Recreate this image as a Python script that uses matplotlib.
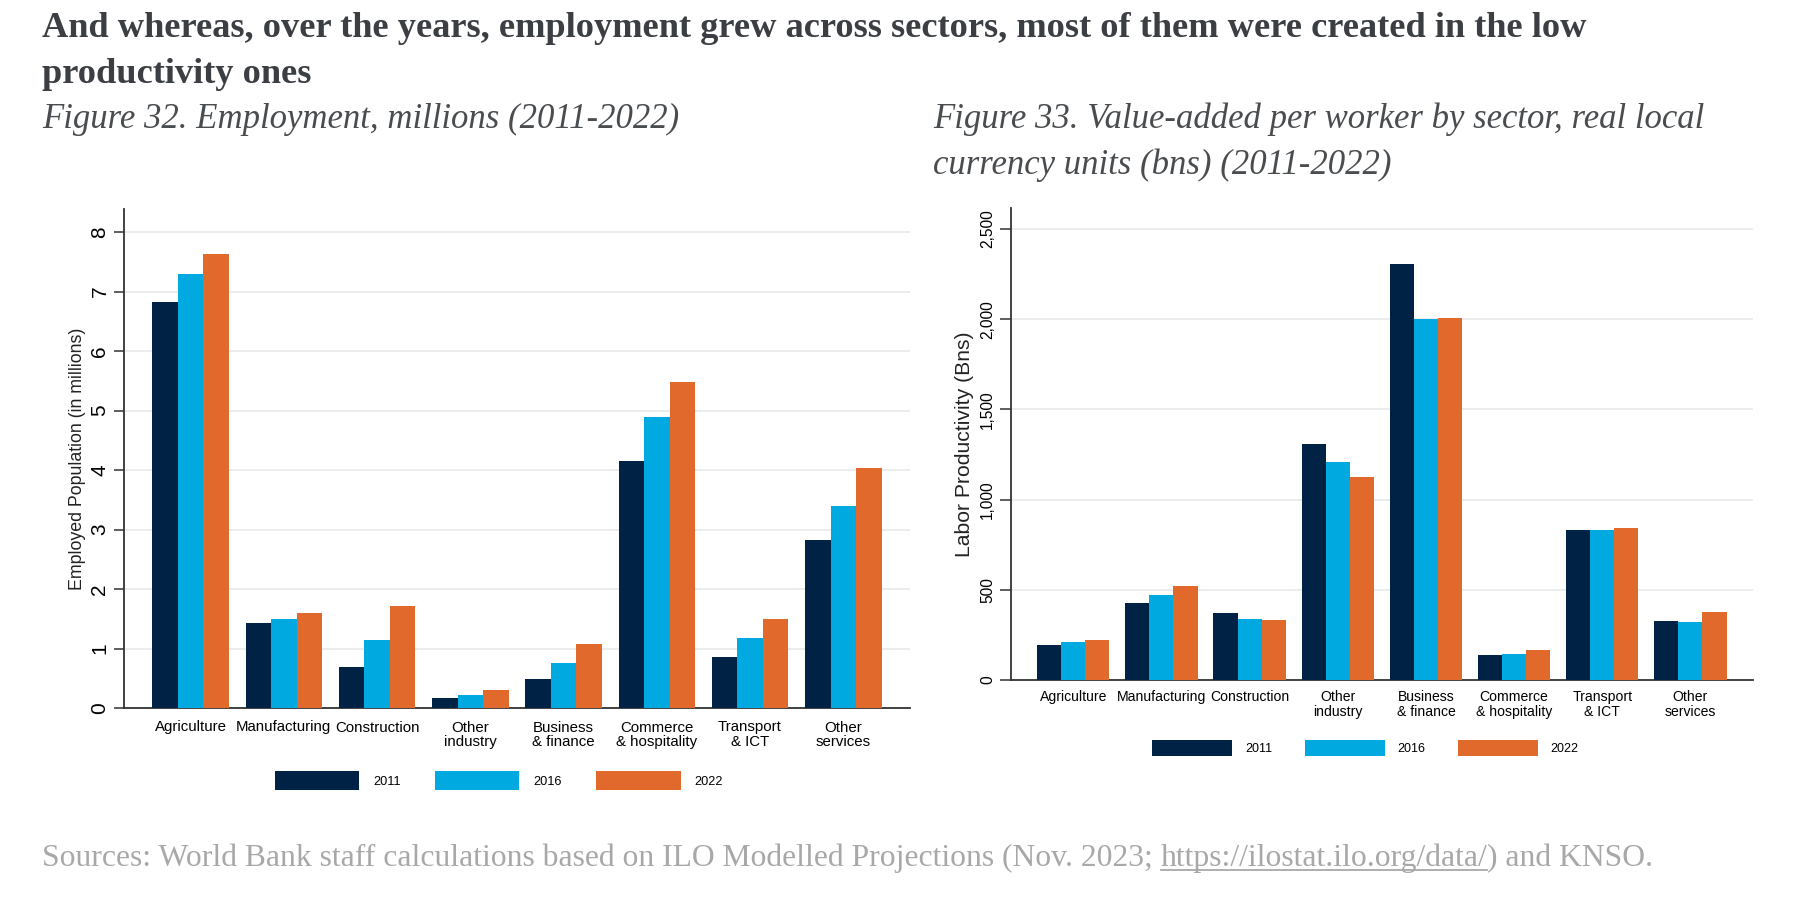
import matplotlib
matplotlib.use("Agg")
import matplotlib.pyplot as plt
from matplotlib.ticker import FuncFormatter
from matplotlib.lines import Line2D
import numpy as np

sectors = ["Agriculture", "Manufacturing", "Construction", "Other\nindustry",
           "Business\n& finance", "Commerce\n& hospitality", "Transport\n& ICT",
           "Other\nservices"]
years = ["2011", "2016", "2022"]
colors = ["#002244", "#00a9e0", "#e0692b"]

# employment, millions
emp_2011 = [6.82, 1.43, 0.69, 0.16, 0.49, 4.15, 0.85, 2.82]
emp_2016 = [7.29, 1.50, 1.14, 0.22, 0.76, 4.89, 1.18, 3.40]
emp_2022 = [7.63, 1.59, 1.72, 0.31, 1.07, 5.48, 1.50, 4.04]

# labor productivity, bns
prod_2011 = [194, 427, 370, 1307, 2306, 137, 832, 325]
prod_2016 = [209, 471, 338, 1209, 2003, 144, 832, 322]
prod_2022 = [220, 521, 333, 1126, 2006, 166, 843, 375]

W, H = 1804, 905
SANS = ["Liberation Sans", "DejaVu Sans"]
SERIF = ["Liberation Serif", "DejaVu Serif"]

fig = plt.figure(figsize=(W / 100, H / 100), dpi=100)


def px_axes(x0, y0, x1, y1):
    # pixel box (top-left origin) -> figure fraction axes
    return fig.add_axes([x0 / W, 1 - y1 / H, (x1 - x0) / W, (y1 - y0) / H])


def bar_chart(ax, series, ytop, xlim, tick_fs, xlab_fs, ylabel, ylab_fs,
              ticklen, xpad):
    x = np.arange(len(sectors))
    bw = 0.82 / 3
    for i, (vals, c) in enumerate(zip(series, colors)):
        ax.bar(x + (i - 1) * bw, vals, bw, color=c, label=years[i], zorder=3)
    ax.set_ylim(0, ytop)
    ax.set_xlim(*xlim)
    ax.set_xticks(x)
    ax.set_xticklabels(sectors, fontsize=xlab_fs, family=SANS, linespacing=1.05)
    ax.tick_params(axis="x", length=0, pad=xpad)
    ax.tick_params(axis="y", length=ticklen, width=1.1, color="#333333",
                   labelsize=tick_fs, pad=3.5)
    for lab in ax.get_yticklabels():
        lab.set_rotation(90)
        lab.set_va("center")
        lab.set_family(SANS)
    ax.grid(axis="y", color="#eaeced", linewidth=1.4, zorder=0)
    for s in ["top", "right"]:
        ax.spines[s].set_visible(False)
    for s in ["left", "bottom"]:
        ax.spines[s].set_color("#333333")
        ax.spines[s].set_linewidth(1.3)
    ax.set_ylabel(ylabel, fontsize=ylab_fs, family=SANS, color="#222222")


# Figure 32
ax1 = px_axes(124, 209, 910, 708)
bar_chart(ax1, [emp_2011, emp_2016, emp_2022], 8.39, (-0.713, 7.715),
          15, 10.8, "Employed Population (in millions)", 12.8, 7, 9)
ax1.set_yticks(range(0, 9))
ax1.yaxis.set_label_coords(-0.048, 0.5)
ax1.legend(loc="center", bbox_to_anchor=(499 / W, 1 - 780.5 / H),
           bbox_transform=fig.transFigure, ncol=3, frameon=False,
           prop={"family": SANS, "size": 9.2}, handlelength=6.6,
           handleheight=1.8, handletextpad=1.1, columnspacing=2.7,
           borderpad=0)

# Figure 33
ax2 = px_axes(1011, 208, 1753, 680)
bar_chart(ax2, [prod_2011, prod_2016, prod_2022], 2617, (-0.706, 7.71),
          11.2, 10.1, "Labor Productivity (Bns)", 15.2, 8, 7.5)
ax2.set_yticks(range(0, 2501, 500))
ax2.yaxis.set_major_formatter(FuncFormatter(lambda v, p: f"{v:,.0f}"))
for lab in ax2.get_yticklabels():
    lab.set_rotation(90)
    lab.set_va("center")
ax2.yaxis.set_label_coords(-0.05, 0.5)
ax2.legend(loc="center", bbox_to_anchor=(1365.5 / W, 1 - 748 / H),
           bbox_transform=fig.transFigure, ncol=3, frameon=False,
           prop={"family": SANS, "size": 9.0}, handlelength=6.4,
           handleheight=1.68, handletextpad=1.02, columnspacing=2.6,
           borderpad=0)

# titles
tcol = "#3b3e42"
fig.text(42 / W, 1 - 37 / H,
         "And whereas, over the years, employment grew across sectors, most of them were created in the low",
         family=SERIF, weight="bold", fontsize=26.2, color=tcol, va="baseline")
fig.text(42 / W, 1 - 83 / H, "productivity ones",
         family=SERIF, weight="bold", fontsize=26.2, color=tcol, va="baseline")
scol = "#4a4d50"
fig.text(42 / W, 1 - 128 / H, "Figure 32. Employment, millions (2011-2022)",
         family=SERIF, style="italic", fontsize=25, color=scol, va="baseline")
fig.text(933 / W, 1 - 128 / H, "Figure 33. Value-added per worker by sector, real local",
         family=SERIF, style="italic", fontsize=25, color=scol, va="baseline")
fig.text(933 / W, 1 - 174 / H, "currency units (bns) (2011-2022)",
         family=SERIF, style="italic", fontsize=25, color=scol, va="baseline")

# source line, with underlined url
gcol = "#a8a8a8"
fig.canvas.draw()
r = fig.canvas.get_renderer()
parts = ["Sources: World Bank staff calculations based on ILO Modelled Projections (Nov. 2023; ",
         "https://ilostat.ilo.org/data/", ") and KNSO."]
x = 42 / W
yb = 1 - 866 / H
for i, p in enumerate(parts):
    t = fig.text(x, yb, p, family=SERIF, fontsize=22.8, color=gcol, va="baseline")
    bb = t.get_window_extent(r).transformed(fig.transFigure.inverted())
    if i == 1:
        fig.add_artist(Line2D([bb.x0, bb.x1], [yb - 4 / H, yb - 4 / H],
                              transform=fig.transFigure, color=gcol, lw=1.3))
    x = bb.x1

fig.savefig("out.png", dpi=100)
